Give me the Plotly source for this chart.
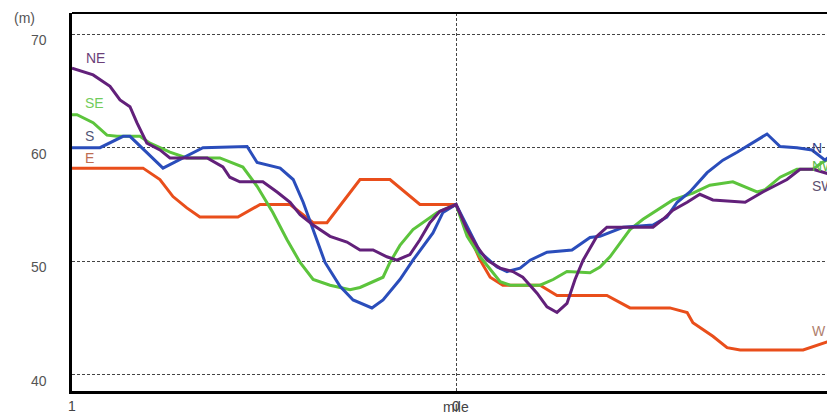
import plotly.graph_objects as go

# distance along profile (mile, -1 .. 1) and elevation (m)
e_w_x = [-1.0, -0.815, -0.771, -0.737, -0.701, -0.667, -0.568, -0.523, -0.510, -0.432, -0.372, -0.336,
         -0.25, -0.172, -0.094, 0.0, 0.063, 0.089, 0.122, 0.219, 0.263, 0.393, 0.453, 0.557, 0.602,
         0.617, 0.669, 0.706, 0.740, 0.904, 0.966, 1.0]
e_w_y = [58.2, 58.2, 57.2, 55.7, 54.7, 53.9, 53.9, 54.7, 55.0, 55.0, 53.4, 53.4, 57.2, 57.2, 55.0, 55.0,
         50.1, 48.6, 47.9, 47.9, 47.0, 47.0, 45.9, 45.9, 45.5, 44.6, 43.4, 42.4, 42.2, 42.2, 42.9, 42.9]

s_n_x = [-1.0, -0.927, -0.867, -0.849, -0.763, -0.659, -0.544, -0.518, -0.458, -0.424, -0.398, -0.372,
         -0.341, -0.302, -0.268, -0.219, -0.190, -0.146, -0.112, -0.060, -0.034, 0.0, 0.029, 0.063,
         0.107, 0.133, 0.167, 0.193, 0.237, 0.302, 0.349, 0.375, 0.435, 0.513, 0.549, 0.576, 0.609,
         0.654, 0.695, 0.732, 0.810, 0.844, 0.888, 0.927, 0.961, 1.0]
s_n_y = [60.0, 60.0, 61.0, 61.0, 58.2, 60.0, 60.1, 58.7, 58.2, 57.2, 55.2, 52.8, 49.9, 47.8, 46.6, 45.9,
         46.6, 48.4, 50.1, 52.5, 54.3, 55.0, 53.0, 50.8, 49.5, 49.1, 49.4, 50.1, 50.8, 51.0, 52.1, 52.2,
         53.0, 53.2, 53.9, 55.2, 56.1, 57.8, 58.9, 59.6, 61.2, 60.1, 60.0, 59.8, 58.9, 60.0]

se_nw_x = [-1.0, -0.987, -0.945, -0.909, -0.883, -0.823, -0.797, -0.745, -0.701, -0.615, -0.555, -0.518,
           -0.477, -0.440, -0.406, -0.372, -0.328, -0.276, -0.25, -0.216, -0.190, -0.172, -0.146, -0.112,
           -0.049, 0.0, 0.029, 0.063, 0.096, 0.115, 0.141, 0.219, 0.253, 0.289, 0.349, 0.375, 0.401,
           0.427, 0.453, 0.487, 0.523, 0.565, 0.617, 0.661, 0.721, 0.784, 0.805, 0.844, 0.888, 0.930,
           0.953, 1.0]
se_nw_y = [62.9, 62.9, 62.2, 61.1, 61.0, 61.0, 60.4, 59.6, 59.1, 59.1, 58.3, 56.6, 54.3, 51.9, 49.9, 48.4,
           47.9, 47.5, 47.7, 48.2, 48.6, 49.9, 51.4, 52.8, 54.3, 55.0, 52.2, 50.4, 49.0, 48.2, 47.9, 47.9,
           48.4, 49.1, 49.0, 49.5, 50.4, 51.6, 52.8, 53.7, 54.5, 55.4, 56.0, 56.7, 57.0, 56.1, 56.3, 57.4,
           58.1, 58.1, 58.7, 59.4]

ne_sw_x = [-1.0, -0.945, -0.901, -0.875, -0.849, -0.831, -0.805, -0.771, -0.745, -0.648, -0.607, -0.589,
           -0.563, -0.503, -0.466, -0.432, -0.406, -0.372, -0.328, -0.284, -0.25, -0.216, -0.180, -0.154,
           -0.120, -0.094, -0.068, -0.042, 0.0, 0.029, 0.055, 0.081, 0.115, 0.148, 0.174, 0.211, 0.237,
           0.263, 0.289, 0.310, 0.331, 0.367, 0.393, 0.513, 0.539, 0.565, 0.602, 0.635, 0.669, 0.753,
           0.799, 0.862, 0.896, 0.930, 1.0]
ne_sw_y = [67.0, 66.4, 65.4, 64.2, 63.6, 62.2, 60.4, 59.8, 59.1, 59.1, 58.3, 57.4, 57.0, 57.0, 56.1, 55.2,
           54.1, 53.2, 52.2, 51.7, 51.0, 51.0, 50.4, 50.1, 50.6, 51.9, 53.4, 54.4, 55.0, 52.8, 51.3, 50.1,
           49.4, 49.1, 48.6, 47.2, 46.0, 45.5, 46.3, 48.4, 50.1, 52.2, 53.0, 53.0, 53.7, 54.5, 55.2, 55.9,
           55.4, 55.2, 56.1, 57.2, 58.1, 58.1, 57.4]

y_ticks = [40, 50, 60, 70]
x_ticks = [-1, 0, 1]
x_tick_text = ["1", "0", "1"]

series = [
    ("E-W", e_w_x, e_w_y, "#E94E1B"),
    ("SE-NW", se_nw_x, se_nw_y, "#5CC43C"),
    ("S-N", s_n_x, s_n_y, "#2A4DBB"),
    ("NE-SW", ne_sw_x, ne_sw_y, "#62207A"),
]

fig = go.Figure()
for name, xs, ys, col in series:
    fig.add_trace(go.Scatter(x=xs, y=ys, mode="lines", name=name,
                             line=dict(color=col, width=3), showlegend=False))

font = "Liberation Sans, Arial, sans-serif"
labels = [
    ("NE", -0.969, 67.9, "#6B3F78"),
    ("SE", -0.971, 63.96, "#72CC5C"),
    ("S", -0.971, 61.06, "#515577"),
    ("E", -0.971, 59.12, "#BE6E52"),
    ("N", 0.922, 60.0, "#34418A"),
    ("NW", 0.922, 58.4, "#5DBB4A"),
    ("SW", 0.922, 56.65, "#5D5070"),
    ("W", 0.922, 43.9, "#B07F6E"),
]
annotations = []
for t, x, y, c in labels:
    annotations.append(dict(x=x, y=y, xref="x", yref="y", text=t, showarrow=False,
                            xanchor="left", yanchor="middle",
                            font=dict(family=font, size=14, color=c)))
for v in y_ticks:
    annotations.append(dict(x=0, y=v, xref="paper", yref="y", text=str(v), showarrow=False,
                            xanchor="right", yanchor="middle", xshift=-23, yshift=-6,
                            font=dict(family=font, size=14, color="#555555")))
annotations.append(dict(x=0, y=1, xref="paper", yref="paper", text="(m)", showarrow=False,
                        xanchor="center", yanchor="middle", xshift=-48, yshift=-5,
                        font=dict(family=font, size=14, color="#555555")))
annotations.append(dict(x=0, y=0, xref="x", yref="paper", text="mile", showarrow=False,
                        xanchor="center", yanchor="top", yshift=-6,
                        font=dict(family=font, size=14, color="#444444")))

# page body adds an 8px margin, so the figure is sized/offset to compensate
fig.update_layout(
    width=827, height=406,
    margin=dict(l=64, r=0, t=5, b=23),
    paper_bgcolor="white", plot_bgcolor="white",
    annotations=annotations,
    shapes=[dict(type="line", xref="paper", yref="paper", x0=0, x1=1, y0=1, y1=1,
                 line=dict(color="black", width=2))],
)
fig.update_xaxes(range=[-1, 0.987], tickvals=x_ticks, ticktext=x_tick_text,
                 showgrid=True, gridcolor="#444444", gridwidth=1, griddash="3px,2px",
                 zeroline=False, showline=True, linecolor="black", linewidth=3,
                 ticks="", tickfont=dict(family=font, size=14, color="#444444"))
fig.update_yaxes(range=[38.59, 71.85], tickvals=y_ticks, showticklabels=False,
                 showgrid=True, gridcolor="#444444", gridwidth=1, griddash="3px,2px",
                 zeroline=False, showline=True, linecolor="black", linewidth=3, ticks="")

fig.write_html("out.html")
